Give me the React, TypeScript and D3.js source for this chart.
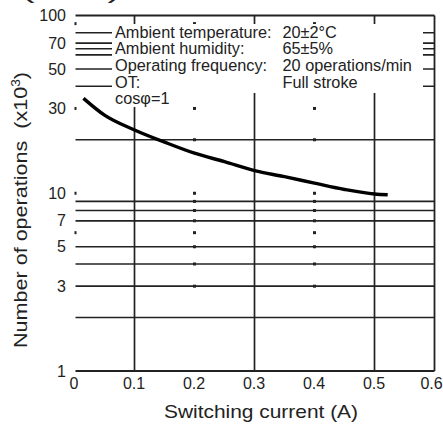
import * as d3 from 'd3';

// x ticks (A) and y ticks (x10^3 operations)
const xTicks = [0, 0.1, 0.2, 0.3, 0.4, 0.5, 0.6];
const yTickLabels = [100, 70, 50, 30, 10, 7, 5, 3, 1];
const solidVerticals = [0.1, 0.3, 0.5];
const dottedVerticals = [0.2, 0.4];
const horizontalGrid = [2, 3, 4, 5, 7, 8, 9, 20, 40, 50, 60, 65, 70, 80];
const dotLevels = [3, 4, 5, 6, 7, 8, 9, 10, 20, 30, 90];
const leftDots = [90, 30, 10, 6];

// curve
const currentA = [0.015, 0.05, 0.1, 0.15, 0.2, 0.25, 0.3, 0.35, 0.4, 0.45, 0.5, 0.522];
const operationsK = [34.2, 27.5, 22.7, 19.4, 16.8, 15.05, 13.4, 12.4, 11.4, 10.5, 9.9, 9.8];

const legendLabels = ['Ambient temperature:', 'Ambient humidity:', 'Operating frequency:', 'OT:', 'cos\u03c6=1'];
const legendValues = ['20\u00b12\u00b0C', '65\u00b15%', '20 operations/min', 'Full stroke', ''];

const W = 443;
const H = 426;
const font = '"Liberation Sans", Arial, Helvetica, sans-serif';
const ink = '#222';

export default function App() {
  const x = d3.scaleLinear().domain([0, 0.6]).range([74.5, 434.5]);
  const y = d3.scaleLog().domain([1, 100]).range([371, 15.5]);
  const left = x(0);
  const right = x(0.6);

  const line = d3
    .line<number>()
    .x((_, i) => x(currentA[i]))
    .y(d => y(d))
    .curve(d3.curveMonotoneX);

  return (
    <svg
      width={W}
      height={H}
      style={{ position: 'absolute', left: 0, top: 0, background: '#fff' }}
      fontFamily={font}
    >
      {/* cut-off heading at the very top */}
      <text x={22} y={-1} fontSize={20} textLength={98} lengthAdjust="spacingAndGlyphs" fill={ink}>
        (x10³)
      </text>

      {/* horizontal grid */}
      {horizontalGrid.map(v => (
        <line key={'h' + v} x1={left + 1} x2={right} y1={y(v)} y2={y(v)} stroke={ink} strokeWidth={1.7} />
      ))}
      {/* frame: top, bottom, right */}
      <line x1={left + 1} x2={right} y1={y(100)} y2={y(100)} stroke={ink} strokeWidth={1.8} />
      <line x1={left + 1} x2={right} y1={y(1)} y2={y(1)} stroke={ink} strokeWidth={1.8} />
      <line x1={right} x2={right} y1={y(100)} y2={y(1)} stroke={ink} strokeWidth={1.8} />

      {/* vertical grid */}
      {solidVerticals.map(v => (
        <line key={'v' + v} x1={x(v)} x2={x(v)} y1={y(100)} y2={y(1)} stroke={ink} strokeWidth={1.7} />
      ))}

      {/* dotted marks */}
      {dottedVerticals.map(v =>
        dotLevels.map(l => (
          <rect key={'d' + v + '-' + l} x={x(v) - 1.5} y={y(l) - 1.5} width={3} height={3} fill={ink} />
        ))
      )}
      {leftDots.map(l => (
        <rect key={'l' + l} x={left} y={y(l) - 1.5} width={2} height={3} fill={ink} />
      ))}

      {/* legend background */}
      <rect x={112} y={24} width={311} height={69} fill="#fff" />
      <rect x={112} y={90} width={78} height={17} fill="#fff" />

      {/* legend text */}
      <g fontSize={16.3} fill={ink}>
        {legendLabels.map((t, i) => (
          <text key={'ll' + i} x={115} y={37.5 + i * 16.7}>
            {t}
          </text>
        ))}
        {legendValues.map((t, i) => (
          <text key={'lv' + i} x={282.5} y={37.5 + i * 16.7}>
            {t}
          </text>
        ))}
      </g>

      {/* curve */}
      <path d={line(operationsK) || ''} fill="none" stroke="#000" strokeWidth={3.4} strokeLinecap="butt" />

      {/* y tick labels */}
      <g fontSize={16} fill={ink} textAnchor="end">
        {yTickLabels.map(v => (
          <text key={'yt' + v} x={66} y={y(v) + 5.5}>
            {v}
          </text>
        ))}
      </g>
      {/* x tick labels */}
      <g fontSize={16} fill={ink} textAnchor="middle">
        {xTicks.map(v => (
          <text key={'xt' + v} x={Math.min(x(v) - 0.5, 431.5)} y={389}>
            {v}
          </text>
        ))}
      </g>

      {/* axis titles */}
      <text
        x={261}
        y={418}
        fontSize={19}
        textAnchor="middle"
        fill={ink}
        textLength={194}
        lengthAdjust="spacingAndGlyphs"
      >
        Switching current (A)
      </text>
      <text
        transform="translate(27,210) rotate(-90)"
        x={0}
        y={0}
        fontSize={19}
        textAnchor="middle"
        fill={ink}
        textLength={276}
        lengthAdjust="spacingAndGlyphs"
      >
        Number of operations{'\u00a0\u00a0'}(x10
        <tspan fontSize={12} dy={-7}>3</tspan>
        <tspan dy={7}>)</tspan>
      </text>
    </svg>
  );
}
